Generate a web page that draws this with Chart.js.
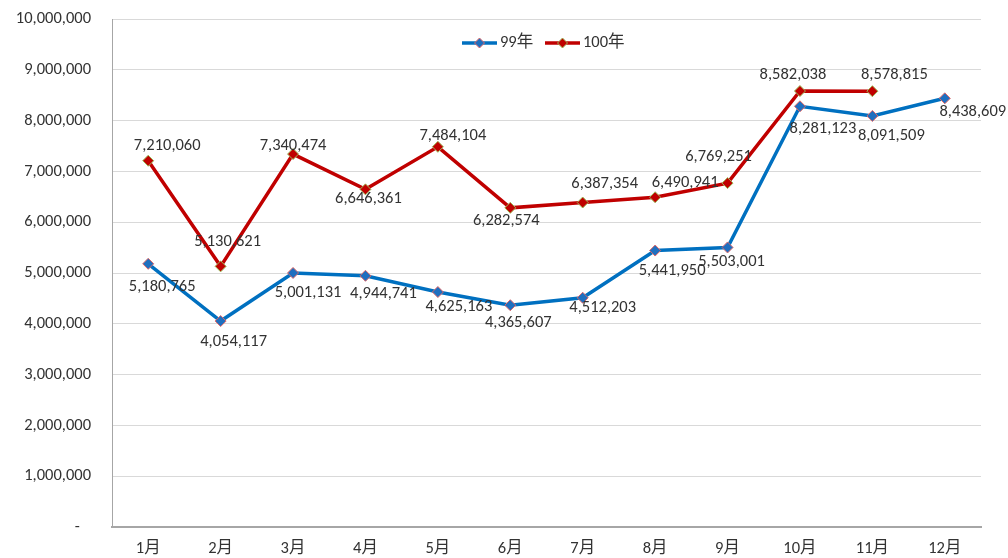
<!DOCTYPE html>
<html>
<head>
<meta charset="utf-8">
<script src="https://cdn.jsdelivr.net/npm/chart.js@4"></script>
<style>
  html, body { margin: 0; padding: 0; background: #fff; }
  #wrap { width: 1008px; height: 558px; }
</style>
</head>
<body>
<div id="wrap"><canvas id="myLineChart" width="1008" height="558"></canvas></div>
<script>
const months = ["1月", "2月", "3月", "4月", "5月", "6月", "7月", "8月", "9月", "10月", "11月", "12月"];
const seriesNames = ["99年", "100年"];
const values99 = [5180765, 4054117, 5001131, 4944741, 4625163, 4365607, 4512203, 5441950, 5503001, 8281123, 8091509, 8438609];
const values100 = [7210060, 5130621, 7340474, 6646361, 7484104, 6282574, 6387354, 6490941, 6769251, 8582038, 8578815, null];

// label offsets (dx, dy) from each point, as placed in the original
const labelOff99 = [[14, 23], [13, 21], [15, 20], [18, 18], [21, 15], [8, 18], [20, 10], [17, 20], [4, 14], [23, 23], [19, 20], [28, 14]];
const labelOff100 = [[19, -15], [7, -24], [0, -8], [3, 10], [15, -11], [-4, 13], [22, -19], [30, -14], [-9, -26], [-7, -16], [22, -16], [0, 0]];

const FONT = "Calibri, 'Liberation Sans', 'Noto Sans CJK TC', sans-serif";
const TXT = "#333333";
const FS = 16.5;

function fmt(v) {
  return v.toString().replace(/\B(?=(\d{3})+(?!\d))/g, ",");
}

const labelPlugin = {
  id: "pointLabels",
  afterDatasetsDraw(chart) {
    const ctx = chart.ctx;
    const offs = [labelOff99, labelOff100];
    ctx.save();
    ctx.font = FS + "px " + FONT;
    ctx.fillStyle = TXT;
    ctx.textAlign = "center";
    ctx.textBaseline = "middle";
    chart.data.datasets.forEach(function (ds, di) {
      const meta = chart.getDatasetMeta(di);
      meta.data.forEach(function (pt, i) {
        const v = ds.data[i];
        if (v === null || v === undefined) return;
        ctx.fillText(fmt(v), pt.x + offs[di][i][0], pt.y + offs[di][i][1]);
      });
    });
    ctx.restore();
  },
};

const legendPlugin = {
  id: "topLegend",
  afterDraw(chart) {
    const ctx = chart.ctx;
    const items = [
      { x: 462, color: "#0070C0", fill: "#1F6FBF", border: "#E06666" },
      { x: 545, color: "#C00000", fill: "#C00000", border: "#9BBB59" },
    ];
    const y = 43;
    ctx.save();
    ctx.font = FS + "px " + FONT;
    ctx.textBaseline = "middle";
    ctx.textAlign = "left";
    items.forEach(function (it, i) {
      ctx.strokeStyle = it.color;
      ctx.lineWidth = 3.5;
      ctx.beginPath();
      ctx.moveTo(it.x, y);
      ctx.lineTo(it.x + 35, y);
      ctx.stroke();
      const cx = it.x + 17.5;
      ctx.beginPath();
      ctx.moveTo(cx, y - 5);
      ctx.lineTo(cx + 5, y);
      ctx.lineTo(cx, y + 5);
      ctx.lineTo(cx - 5, y);
      ctx.closePath();
      ctx.fillStyle = it.fill;
      ctx.fill();
      ctx.strokeStyle = it.border;
      ctx.lineWidth = 1;
      ctx.stroke();
      ctx.fillStyle = TXT;
      ctx.fillText(seriesNames[i], it.x + 38, y);
    });
    ctx.restore();
  },
};

document.addEventListener("DOMContentLoaded", function () {
  const ctx = document.getElementById("myLineChart").getContext("2d");
  const myLineChart = new Chart(ctx, {
    type: "line",
    data: {
      labels: months,
      datasets: [
        {
          label: seriesNames[0],
          data: values99,
          borderColor: "#0070C0",
          borderWidth: 3.5,
          pointStyle: "rectRot",
          pointRadius: 5.5,
          pointBackgroundColor: "#1F6FBF",
          pointBorderColor: "#E06666",
          pointBorderWidth: 1,
          tension: 0,
        },
        {
          label: seriesNames[1],
          data: values100,
          borderColor: "#C00000",
          borderWidth: 3.5,
          pointStyle: "rectRot",
          pointRadius: 5.5,
          pointBackgroundColor: "#C00000",
          pointBorderColor: "#9BBB59",
          pointBorderWidth: 1,
          tension: 0,
        },
      ],
    },
    options: {
      responsive: false,
      animation: false,
      layout: { padding: { top: 19, right: 27, left: 0, bottom: 0 } },
      plugins: {
        legend: { display: false },
        tooltip: { enabled: false },
      },
      scales: {
        x: {
          offset: true,
          grid: { display: false, drawTicks: false },
          border: { color: "#A6A6A6", width: 2 },
          ticks: { padding: 12, color: TXT, font: { family: FONT, size: FS } },
          afterFit: function (scale) { scale.height = 31; },
        },
        y: {
          min: 0,
          max: 10000000,
          grid: { color: "#D9D9D9", lineWidth: 1, drawTicks: false },
          border: { color: "#A6A6A6", width: 1 },
          ticks: {
            stepSize: 1000000,
            padding: 21,
            color: TXT,
            font: { family: FONT, size: FS },
            callback: function (v) { return v === 0 ? "-   " : fmt(v); },
          },
          afterFit: function (scale) {
            scale.width = 112;
            scale.paddingTop = 0;
            scale.paddingBottom = 0;
          },
        },
      },
    },
    plugins: [labelPlugin, legendPlugin],
  });
});
</script>
</body>
</html>
